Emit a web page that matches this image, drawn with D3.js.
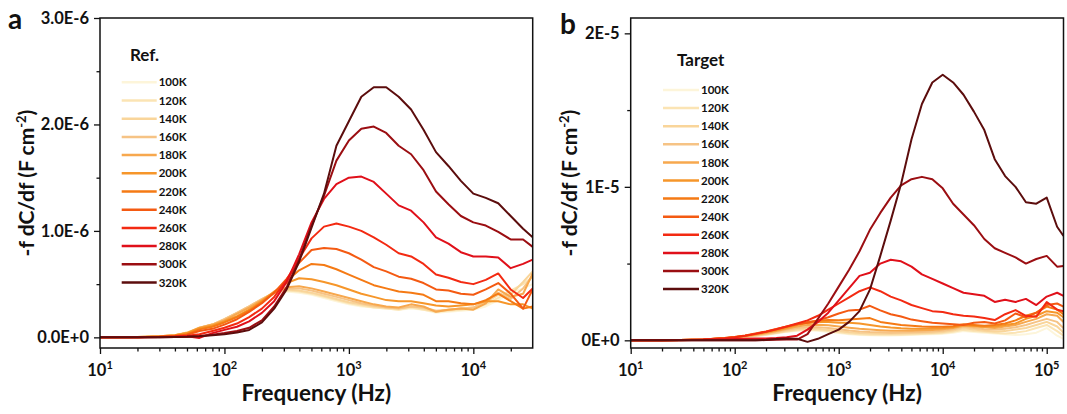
<!DOCTYPE html>
<html>
<head>
<meta charset="utf-8">
<script src="https://cdn.jsdelivr.net/npm/d3@7"></script>
<style>
  body { margin: 0; background: #fff; }
  text { font-family: Lato, "Open Sans", sans-serif; font-weight: 700; fill: #111; }
</style>
</head>
<body>
<script>
// temperatures and their colours (light -> dark)
var temps = ["100K", "120K", "140K", "160K", "180K", "200K", "220K", "240K", "260K", "280K", "300K", "320K"];
var colors = ["#fdf5da", "#fbe4b4", "#f9d59a", "#f6c385", "#f7a84e", "#f6962a", "#f57a14", "#f45a12", "#f32a12", "#e0101a", "#9b0e12", "#5c0d0d"];

// panel a (Ref.), values in units of 1E-6 F cm-2
var freqA = [10, 20, 30, 40, 50, 63, 80, 100, 126, 158, 200, 251, 316, 398, 501, 631, 794, 1000, 1259, 1585,
    1995, 2512, 3162, 3981, 5012, 6310, 7943, 10000, 12589, 15849, 19953, 25119, 30000];
var refCurves = [
    [0, 0.003, 0.01, 0.02, 0.045, 0.08, 0.12, 0.17, 0.23, 0.29, 0.35, 0.41, 0.43, 0.42, 0.40, 0.37, 0.34, 0.31, 0.29, 0.28, 0.27, 0.26, 0.27, 0.26, 0.23, 0.24, 0.25, 0.26, 0.29, 0.35, 0.42, 0.46, 0.50],
    [0, 0.003, 0.01, 0.02, 0.045, 0.085, 0.12, 0.17, 0.23, 0.29, 0.36, 0.42, 0.44, 0.43, 0.41, 0.38, 0.35, 0.32, 0.30, 0.28, 0.27, 0.26, 0.28, 0.26, 0.24, 0.25, 0.26, 0.27, 0.31, 0.37, 0.44, 0.50, 0.57],
    [0, 0.003, 0.01, 0.02, 0.045, 0.09, 0.12, 0.17, 0.23, 0.29, 0.36, 0.42, 0.45, 0.44, 0.42, 0.39, 0.36, 0.33, 0.31, 0.29, 0.28, 0.27, 0.29, 0.27, 0.24, 0.26, 0.27, 0.28, 0.33, 0.40, 0.40, 0.52, 0.62],
    [0, 0.003, 0.01, 0.02, 0.04, 0.09, 0.12, 0.17, 0.23, 0.29, 0.36, 0.42, 0.46, 0.46, 0.44, 0.41, 0.38, 0.35, 0.32, 0.30, 0.28, 0.27, 0.29, 0.28, 0.25, 0.26, 0.27, 0.28, 0.34, 0.42, 0.36, 0.46, 0.58],
    [0, 0.003, 0.01, 0.02, 0.04, 0.09, 0.12, 0.16, 0.22, 0.28, 0.35, 0.42, 0.47, 0.48, 0.46, 0.43, 0.40, 0.37, 0.34, 0.31, 0.29, 0.28, 0.31, 0.29, 0.24, 0.26, 0.27, 0.26, 0.32, 0.45, 0.38, 0.41, 0.60],
    [0, 0.002, 0.008, 0.02, 0.04, 0.085, 0.11, 0.15, 0.20, 0.26, 0.34, 0.43, 0.51, 0.555, 0.545, 0.52, 0.49, 0.45, 0.41, 0.38, 0.35, 0.34, 0.34, 0.32, 0.30, 0.29, 0.30, 0.31, 0.34, 0.34, 0.31, 0.31, 0.27],
    [0, 0.002, 0.007, 0.015, 0.03, 0.075, 0.10, 0.14, 0.19, 0.25, 0.33, 0.42, 0.53, 0.63, 0.69, 0.68, 0.64, 0.59, 0.54, 0.49, 0.46, 0.43, 0.42, 0.40, 0.34, 0.34, 0.32, 0.31, 0.35, 0.41, 0.34, 0.27, 0.29],
    [0, 0.002, 0.006, 0.012, 0.025, 0.06, 0.08, 0.12, 0.17, 0.24, 0.32, 0.42, 0.55, 0.70, 0.82, 0.84, 0.83, 0.79, 0.73, 0.66, 0.62, 0.57, 0.55, 0.51, 0.45, 0.44, 0.41, 0.40, 0.45, 0.51, 0.41, 0.27, 0.45],
    [0, 0.001, 0.004, 0.008, 0.015, 0.03, 0.06, 0.09, 0.13, 0.19, 0.27, 0.38, 0.54, 0.74, 0.93, 1.04, 1.07, 1.04, 1.00, 0.94, 0.87, 0.79, 0.76, 0.69, 0.59, 0.56, 0.52, 0.50, 0.54, 0.60, 0.45, 0.37, 0.46],
    [0, 0.001, 0.003, 0.006, 0.01, -0.005, 0.04, 0.07, 0.10, 0.15, 0.23, 0.34, 0.52, 0.78, 1.08, 1.30, 1.44, 1.50, 1.51, 1.46, 1.35, 1.24, 1.19, 1.08, 0.94, 0.88, 0.80, 0.76, 0.76, 0.75, 0.65, 0.69, 0.73],
    [0, 0, 0.002, 0.004, 0.006, 0.012, 0.025, 0.04, 0.06, 0.09, 0.16, 0.29, 0.47, 0.73, 1.05, 1.33, 1.66, 1.85, 1.96, 1.98, 1.92, 1.80, 1.72, 1.57, 1.37, 1.25, 1.14, 1.08, 1.05, 0.99, 0.92, 0.92, 0.85],
    [0, 0, 0.002, 0.003, 0.005, 0.01, 0.02, 0.03, 0.045, 0.07, 0.14, 0.27, 0.45, 0.71, 1.03, 1.35, 1.80, 2.03, 2.26, 2.35, 2.35, 2.26, 2.14, 1.95, 1.74, 1.61, 1.47, 1.35, 1.31, 1.26, 1.14, 1.02, 0.94]
];

// panel b (Target), values in units of 1E-5 F cm-2
var freqB = [10, 20, 30, 50, 80, 100, 126, 158, 200, 251, 316, 398, 501, 631, 794, 1000, 1259, 1585, 1995, 2512,
    3162, 3981, 5012, 6310, 7943, 10000, 12589, 15849, 19953, 25119, 31623, 39811, 50119, 63096, 79433, 100000, 125893, 145000];
var targetCurves = [
    [0, 0, 0.001, 0.004, 0.01, 0.014, 0.02, 0.027, 0.035, 0.045, 0.055, 0.062, 0.065, 0.062, 0.055, 0.047, 0.04, 0.035, 0.033, 0.032, 0.032, 0.033, 0.035, 0.038, 0.04, 0.042, 0.05, 0.06, 0.055, 0.05, 0.045, 0.04, 0.035, 0.04, 0.05, 0.08, 0.03, 0.01],
    [0, 0, 0.001, 0.004, 0.01, 0.015, 0.021, 0.028, 0.037, 0.047, 0.058, 0.066, 0.07, 0.068, 0.06, 0.052, 0.045, 0.04, 0.037, 0.036, 0.036, 0.037, 0.04, 0.042, 0.045, 0.048, 0.056, 0.068, 0.06, 0.056, 0.05, 0.045, 0.05, 0.06, 0.08, 0.10, 0.06, 0.03],
    [0, 0, 0.001, 0.005, 0.011, 0.016, 0.023, 0.03, 0.04, 0.05, 0.062, 0.072, 0.077, 0.075, 0.068, 0.06, 0.052, 0.047, 0.044, 0.043, 0.043, 0.044, 0.046, 0.048, 0.05, 0.054, 0.064, 0.078, 0.07, 0.062, 0.058, 0.06, 0.07, 0.08, 0.10, 0.12, 0.09, 0.05],
    [0, 0, 0.002, 0.005, 0.012, 0.017, 0.025, 0.033, 0.043, 0.055, 0.068, 0.08, 0.087, 0.086, 0.08, 0.072, 0.064, 0.058, 0.054, 0.052, 0.05, 0.051, 0.053, 0.055, 0.058, 0.062, 0.072, 0.088, 0.08, 0.072, 0.07, 0.075, 0.085, 0.10, 0.12, 0.14, 0.12, 0.08],
    [0, 0, 0.002, 0.005, 0.013, 0.018, 0.027, 0.036, 0.047, 0.06, 0.075, 0.09, 0.10, 0.102, 0.098, 0.09, 0.082, 0.075, 0.07, 0.066, 0.063, 0.062, 0.063, 0.065, 0.068, 0.072, 0.08, 0.095, 0.09, 0.085, 0.08, 0.09, 0.10, 0.12, 0.14, 0.17, 0.16, 0.12],
    [0, 0, 0.002, 0.006, 0.014, 0.02, 0.029, 0.039, 0.052, 0.066, 0.082, 0.10, 0.112, 0.12, 0.12, 0.115, 0.115, 0.11, 0.10, 0.09, 0.083, 0.078, 0.076, 0.076, 0.078, 0.08, 0.085, 0.10, 0.095, 0.09, 0.09, 0.10, 0.11, 0.14, 0.16, 0.19, 0.18, 0.15],
    [0, 0, 0.002, 0.006, 0.015, 0.021, 0.03, 0.041, 0.055, 0.07, 0.088, 0.105, 0.12, 0.128, 0.132, 0.13, 0.135, 0.14, 0.145, 0.12, 0.11, 0.10, 0.095, 0.09, 0.088, 0.088, 0.092, 0.105, 0.10, 0.095, 0.10, 0.11, 0.13, 0.16, 0.18, 0.22, 0.20, 0.17],
    [0, 0, 0.002, 0.006, 0.015, 0.022, 0.032, 0.044, 0.058, 0.074, 0.09, 0.105, 0.115, 0.13, 0.15, 0.175, 0.195, 0.20, 0.225, 0.195, 0.17, 0.155, 0.135, 0.125, 0.115, 0.11, 0.105, 0.10, 0.115, 0.12, 0.11, 0.13, 0.175, 0.15, 0.18, 0.23, 0.24, 0.22],
    [0, 0, 0.002, 0.006, 0.014, 0.02, 0.03, 0.042, 0.056, 0.072, 0.09, 0.11, 0.13, 0.16, 0.20, 0.24, 0.28, 0.32, 0.345, 0.32, 0.285, 0.26, 0.23, 0.21, 0.19, 0.185, 0.17, 0.16, 0.155, 0.145, 0.132, 0.17, 0.197, 0.16, 0.154, 0.25, 0.20, 0.19],
    [0, 0, 0.001, 0.003, 0.006, 0.008, 0.01, 0.012, 0.012, 0.015, 0.02, 0.03, 0.07, 0.12, 0.18, 0.26, 0.34, 0.42, 0.44, 0.50, 0.525, 0.515, 0.48, 0.43, 0.40, 0.37, 0.34, 0.31, 0.30, 0.29, 0.25, 0.265, 0.25, 0.27, 0.23, 0.285, 0.31, 0.29],
    [0, 0, 0, 0, 0, 0, 0, 0, 0.002, 0.003, 0.005, 0.005, 0.04, 0.14, 0.24, 0.35, 0.46, 0.58, 0.72, 0.83, 0.93, 1.01, 1.05, 1.065, 1.05, 0.99, 0.89, 0.82, 0.75, 0.66, 0.60, 0.57, 0.54, 0.50, 0.53, 0.55, 0.48, 0.485],
    [0, 0, 0, 0, 0, 0, 0, 0, 0.003, 0.008, 0.012, 0.01, -0.01, 0.01, 0.04, 0.07, 0.12, 0.19, 0.33, 0.55, 0.78, 1.02, 1.31, 1.54, 1.68, 1.73, 1.68, 1.60, 1.49, 1.37, 1.18, 1.07, 1.00, 0.90, 0.89, 0.93, 0.74, 0.68]
];

// axis ticks
var yTicksA = [0, 1, 2, 3];
var yLabelsA = ["0.0E+0", "1.0E-6", "2.0E-6", "3.0E-6"];
var yMinorA = [0.5, 1.5, 2.5];
var yTicksB = [0, 1, 2];
var yLabelsB = ["0E+0", "1E-5", "2E-5"];
var yMinorB = [0.5, 1.5];
var xTicksA = [10, 100, 1000, 10000];
var xTicksB = [10, 100, 1000, 10000, 100000];

var svg = d3.select("body").append("svg")
    .attr("width", 1067)
    .attr("height", 414);

// log minor ticks 2..9 of each decade inside the domain
function minorTicks(domain) {
    var out = [];
    for (var e = 1; e <= 5; e++) {
        for (var m = 2; m <= 9; m++) {
            var v = m * Math.pow(10, e);
            if (v > domain[0] && v < domain[1]) out.push(v);
        }
    }
    return out;
}

function drawPanel(p) {
    var x = d3.scaleLog().domain(p.xDomain).range([p.left, p.right]);
    var y = d3.scaleLinear().domain(p.yDomain).range([p.bottom, p.top]);
    var g = svg.append("g");

    svg.append("clipPath").attr("id", "clip-" + p.letter)
        .append("rect")
        .attr("x", p.left).attr("y", p.top)
        .attr("width", p.right - p.left).attr("height", p.bottom - p.top);

    // curves, light first so dark ones sit on top
    var line = d3.line()
        .x(function (d, i) { return x(p.freqs[i]); })
        .y(function (d) { return y(d); });

    g.append("g")
        .attr("clip-path", "url(#clip-" + p.letter + ")")
        .selectAll("path")
        .data(p.curves)
        .enter()
        .append("path")
        .attr("d", line)
        .attr("fill", "none")
        .attr("stroke", function (d, i) { return colors[i]; })
        .attr("stroke-width", 2)
        .attr("stroke-linejoin", "round");

    // frame
    g.append("rect")
        .attr("x", p.left).attr("y", p.top)
        .attr("width", p.right - p.left).attr("height", p.bottom - p.top)
        .attr("fill", "none")
        .attr("stroke", "#111")
        .attr("stroke-width", 1.5);

    // x axis
    var xAxis = g.append("g").attr("transform", "translate(0," + p.bottom + ")");
    xAxis.call(d3.axisBottom(x).tickValues(p.xTicks).tickSize(6).tickFormat(""));
    xAxis.append("g").call(d3.axisBottom(x).tickValues(minorTicks(p.xDomain)).tickSize(3.5).tickFormat(""));
    xAxis.selectAll(".domain").remove();
    xAxis.selectAll("line").attr("stroke", "#111").attr("stroke-width", 1.3);

    var xl = g.selectAll(".xlab")
        .data(p.xTicks)
        .enter()
        .append("text")
        .attr("x", function (d) { return x(d); })
        .attr("y", p.bottom + 28)
        .attr("text-anchor", "middle")
        .attr("font-size", "16.5px");
    xl.append("tspan").text("10");
    xl.append("tspan")
        .attr("dy", -7)
        .attr("font-size", "11px")
        .text(function (d) { return Math.round(Math.log10(d)); });

    // y axis
    var yAxis = g.append("g").attr("transform", "translate(" + p.left + ",0)");
    yAxis.call(d3.axisLeft(y).tickValues(p.yTicks).tickSize(6)
        .tickFormat(function (d, i) { return p.yLabels[i]; }));
    yAxis.append("g").call(d3.axisLeft(y).tickValues(p.yMinor).tickSize(3.5).tickFormat(""));
    yAxis.selectAll(".domain").remove();
    yAxis.selectAll("line").attr("stroke", "#111").attr("stroke-width", 1.3);
    yAxis.selectAll("text")
        .attr("font-family", "Lato, sans-serif")
        .attr("font-weight", 700)
        .attr("font-size", "16.5px")
        .attr("fill", "#111")
        .attr("x", -11);

    // axis titles
    g.append("text")
        .attr("x", (p.left + p.right) / 2)
        .attr("y", 401)
        .attr("text-anchor", "middle")
        .attr("font-size", "22.5px")
        .text("Frequency (Hz)");

    var yt = g.append("text")
        .attr("transform", "translate(" + p.yTitleX + "," + (p.top + p.bottom) / 2 + ") rotate(-90)")
        .attr("text-anchor", "middle")
        .attr("dy", "0.35em")
        .attr("font-size", "21px");
    yt.append("tspan").text("-f dC/df (F cm");
    yt.append("tspan").attr("dy", -8).attr("font-size", "13px").text("-2");
    yt.append("tspan").attr("dy", 8).text(")");

    // panel letter
    g.append("text")
        .attr("x", p.letterX)
        .attr("y", p.letterY)
        .attr("font-size", "28px")
        .text(p.letter);

    // legend
    g.append("text")
        .attr("x", p.legend.titleX)
        .attr("y", p.legend.titleY)
        .attr("font-size", "17px")
        .text(p.legend.title);

    var items = g.selectAll(".leg")
        .data(temps)
        .enter()
        .append("g")
        .attr("transform", function (d, i) {
            return "translate(0," + (p.legend.y0 + i * p.legend.step) + ")";
        });
    items.append("line")
        .attr("x1", p.legend.x1).attr("x2", p.legend.x2)
        .attr("stroke", function (d, i) { return colors[i]; })
        .attr("stroke-width", 2.5);
    items.append("text")
        .attr("x", p.legend.x2 + 2)
        .attr("dy", "0.36em")
        .attr("font-size", "11.5px")
        .text(function (d) { return d; });
}

drawPanel({
    letter: "a", letterX: 8, letterY: 29,
    left: 100, right: 532.7, top: 18, bottom: 348,
    xDomain: [10, 30000], yDomain: [-0.1, 3.0],
    xTicks: xTicksA, yTicks: yTicksA, yLabels: yLabelsA, yMinor: yMinorA,
    freqs: freqA, curves: refCurves, yTitleX: 27,
    legend: { title: "Ref.", titleX: 130, titleY: 61, x1: 121.7, x2: 156.7, y0: 82.3, step: 18.2 }
});

drawPanel({
    letter: "b", letterX: 560, letterY: 34,
    left: 630.7, right: 1063.5, top: 18, bottom: 348,
    xDomain: [10, 145000], yDomain: [-0.05, 2.1],
    xTicks: xTicksB, yTicks: yTicksB, yLabels: yLabelsB, yMinor: yMinorB,
    freqs: freqB, curves: targetCurves, yTitleX: 570,
    legend: { title: "Target", titleX: 677, titleY: 66, x1: 663, x2: 699, y0: 90, step: 18.1 }
});
</script>
</body>
</html>
